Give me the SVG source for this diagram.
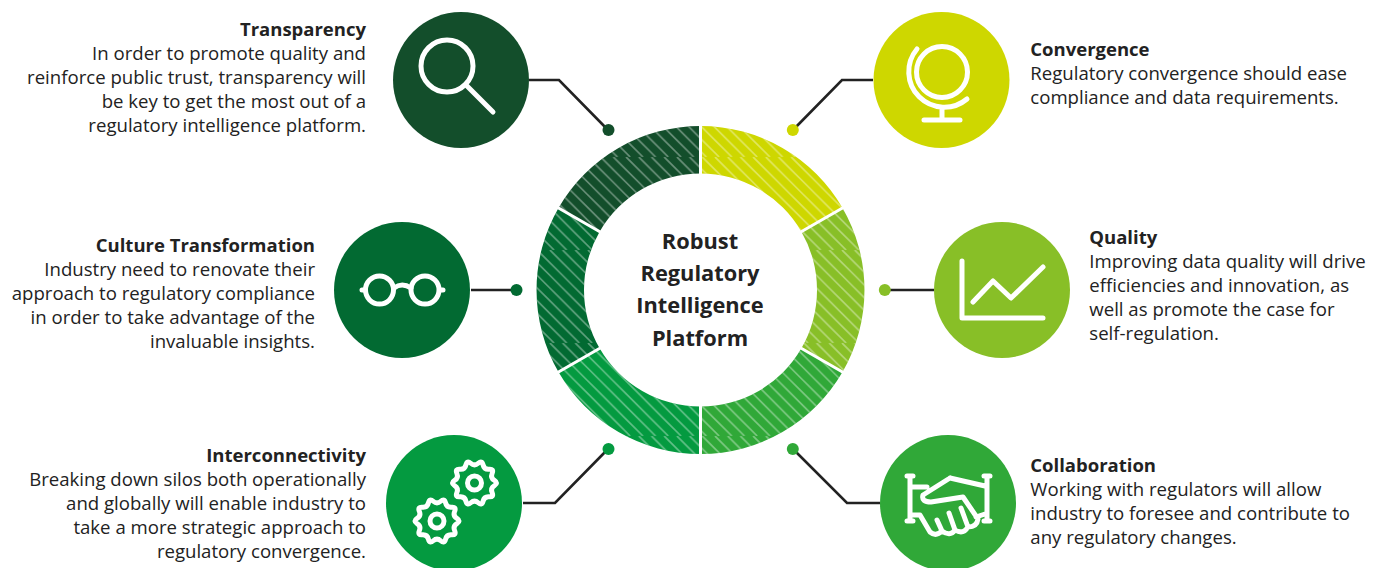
<svg xmlns="http://www.w3.org/2000/svg" width="1384" height="568" viewBox="0 0 1384 568">
<style>
text{font-family:"Open Sans","Noto Sans","DejaVu Sans",sans-serif;font-size:18.6px;fill:#222}
.t{font-weight:700;font-size:18.5px}
.e{text-anchor:end}
.c{font-size:21.8px;font-weight:700;text-anchor:middle}
.ic{fill:none;stroke:#fff;stroke-width:5;stroke-linecap:round;stroke-linejoin:round}
.cn{fill:none;stroke:#222;stroke-width:2.6;stroke-linejoin:miter}
.h{fill:url(#hatch)}
</style>
<defs>
<pattern id="hatch" patternUnits="userSpaceOnUse" x="3.800" y="64" width="12.700" height="93"><path fill="none" stroke="#fff" stroke-opacity=".36" stroke-width="1.700" d="M12.700,0L105.700,93M0,0L93,93M-12.700,0L80.300,93M-25.400,0L67.600,93M-38.100,0L54.900,93M-50.800,0L42.200,93M-63.500,0L29.500,93M-76.200,0L16.800,93M-88.900,0L4.100,93M-101.600,0L-8.600,93"/></pattern>
<g id="gear"><path transform="scale(1.1)" fill="none" stroke="#fff" stroke-width="4.5" stroke-linejoin="round" d="M18.15,-2.3 Q22,0 18.15,2.3 Q14.3,4.6 16.05,8.75 Q17.8,12.9 13.3,12.5 Q8.8,12.1 7.8,16.5 Q6.8,20.9 3.4,17.95 Q0,15 -3.4,17.95 Q-6.8,20.9 -7.8,16.5 Q-8.8,12.1 -13.3,12.5 Q-17.8,12.9 -16.05,8.75 Q-14.3,4.6 -18.15,2.3 Q-22,0 -18.15,-2.3 Q-14.3,-4.6 -16.05,-8.75 Q-17.8,-12.9 -13.3,-12.5 Q-8.8,-12.1 -7.8,-16.5 Q-6.8,-20.9 -3.4,-17.95 Q0,-15 3.4,-17.95 Q6.8,-20.9 7.8,-16.5 Q8.8,-12.1 13.3,-12.5 Q17.8,-12.9 16.05,-8.75 Q14.3,-4.6 18.15,-2.3Z"/><circle r="7" fill="none" stroke="#fff" stroke-width="5"/></g>
</defs>
<g id="connectors">
<path class="cn" d="M529,80H559L608,130"/>
<path class="cn" d="M873,80H842L793,130"/>
<path class="cn" d="M471,290H516"/>
<path class="cn" d="M934,290H885"/>
<path class="cn" d="M523,503H555L608,449"/>
<path class="cn" d="M880,503H847L793,449"/>
<circle cx="608.500" cy="130" r="6" fill="#134e2b"/>
<circle cx="792.800" cy="130" r="6" fill="#ced700"/>
<circle cx="516.500" cy="290" r="6" fill="#026a32"/>
<circle cx="884.800" cy="290" r="6" fill="#88bf27"/>
<circle cx="608.500" cy="449" r="6" fill="#049a40"/>
<circle cx="792.800" cy="449" r="6" fill="#30a838"/>
</g>
<g id="ring">
<path fill="#134e2b" d="M700.500,126A164,164 0 0 0 558.500,208L599.600,231.750A116.500,116.500 0 0 1 700.500,173.500Z"/>
<path class="h" d="M700.500,126A164,164 0 0 0 558.500,208L599.600,231.750A116.500,116.500 0 0 1 700.500,173.500Z"/>
<path fill="#ced700" d="M700.500,126A164,164 0 0 1 842.500,208L801.400,231.750A116.500,116.500 0 0 0 700.500,173.500Z"/>
<path class="h" d="M700.500,126A164,164 0 0 1 842.500,208L801.400,231.750A116.500,116.500 0 0 0 700.500,173.500Z"/>
<path fill="#88bf27" d="M842.500,208A164,164 0 0 1 842.500,372L801.400,348.250A116.500,116.500 0 0 0 801.400,231.750Z"/>
<path class="h" d="M842.500,208A164,164 0 0 1 842.500,372L801.400,348.250A116.500,116.500 0 0 0 801.400,231.750Z"/>
<path fill="#30a838" d="M842.500,372A164,164 0 0 1 700.500,454L700.500,406.500A116.500,116.500 0 0 0 801.400,348.250Z"/>
<path class="h" d="M842.500,372A164,164 0 0 1 700.500,454L700.500,406.500A116.500,116.500 0 0 0 801.400,348.250Z"/>
<path fill="#049a40" d="M700.500,454A164,164 0 0 1 558.500,372L599.600,348.250A116.500,116.500 0 0 0 700.500,406.500Z"/>
<path class="h" d="M700.500,454A164,164 0 0 1 558.500,372L599.600,348.250A116.500,116.500 0 0 0 700.500,406.500Z"/>
<path fill="#026a32" d="M558.500,372A164,164 0 0 1 558.500,208L599.600,231.750A116.500,116.500 0 0 0 599.600,348.250Z"/>
<path class="h" d="M558.500,372A164,164 0 0 1 558.500,208L599.600,231.750A116.500,116.500 0 0 0 599.600,348.250Z"/>
<path fill="none" stroke="#fff" stroke-width="3" d="M700.500,120V176M700.500,404V460M846,206L799,233M846,374L799,347M555,206L602,233M555,374L602,347"/>
<text class="c" x="700" y="248.500">Robust</text>
<text class="c" x="700" y="281">Regulatory</text>
<text class="c" x="700" y="313">Intelligence</text>
<text class="c" x="700" y="345.500">Platform</text>
</g>
<g id="transparency">
<circle cx="461" cy="80" r="68" fill="#134e2b"/>
<circle class="ic" cx="447" cy="66" r="26"/>
<path class="ic" d="M467,86L493,112"/>
<text class="t e" x="366" y="36">Transparency</text>
<text class="e" x="366" y="60">In order to promote quality and</text>
<text class="e" x="366" y="84">reinforce public trust, transparency will</text>
<text class="e" x="366" y="108">be key to get the most out of a</text>
<text class="e" x="366" y="132">regulatory intelligence platform.</text>
</g>
<g id="convergence">
<circle cx="941.500" cy="80" r="68" fill="#ced700"/>
<circle class="ic" cx="942" cy="72" r="25.500"/>
<path class="ic" d="M917,49A35.500,35.500 0 0 0 967,99M942,110V120M924,120H960"/>
<text class="t" x="1030.300" y="56">Convergence</text>
<text x="1030.300" y="80">Regulatory convergence should ease</text>
<text x="1030.300" y="104">compliance and data requirements.</text>
</g>
<g id="culture">
<circle cx="402" cy="290" r="68" fill="#026a32"/>
<circle class="ic" cx="379.500" cy="290" r="14"/>
<circle class="ic" cx="425" cy="290" r="14"/>
<path class="ic" d="M394,288Q402,282 411,288M362,290H365M440,290H443"/>
<text class="t e" x="315" y="252">Culture Transformation</text>
<text class="e" x="315" y="276">Industry need to renovate their</text>
<text class="e" x="315" y="300">approach to regulatory compliance</text>
<text class="e" x="315" y="324">in order to take advantage of the</text>
<text class="e" x="315" y="348">invaluable insights.</text>
</g>
<g id="quality">
<circle cx="1002" cy="290" r="68" fill="#88bf27"/>
<path class="ic" d="M962,261V318H1043M973,302L993,281L1011,298L1043,267"/>
<text class="t" x="1089.300" y="244">Quality</text>
<text x="1089.300" y="268">Improving data quality will drive</text>
<text x="1089.300" y="292">efficiencies and innovation, as</text>
<text x="1089.300" y="316">well as promote the case for</text>
<text x="1089.300" y="340">self-regulation.</text>
</g>
<g id="interconnectivity">
<circle cx="454" cy="503" r="68" fill="#049a40"/>
<use href="#gear" x="474.500" y="483"/>
<use href="#gear" x="437" y="521"/>
<text class="t e" x="366" y="462">Interconnectivity</text>
<text class="e" x="366" y="486">Breaking down silos both operationally</text>
<text class="e" x="366" y="510">and globally will enable industry to</text>
<text class="e" x="366" y="534">take a more strategic approach to</text>
<text class="e" x="366" y="558">regulatory convergence.</text>
</g>
<g id="collaboration">
<circle cx="948" cy="503" r="68" fill="#30a838"/>
<path class="ic" d="M907,476H913M910,476V521M907,521H913M984,476H990M987,476V521M984,521H990M910,487H927M950,478L985,486M910,515H920L930,532Q936,537 942,531Q950,537 955,530Q963,535 968,527Q977,527 978,519L963,497L931,502Q921,502 923,495L950,478M942,531L937,520M955,530L949,513M968,527L961,508M976,517L985,514"/>
<text class="t" x="1030.300" y="472">Collaboration</text>
<text x="1030.300" y="496">Working with regulators will allow</text>
<text x="1030.300" y="520">industry to foresee and contribute to</text>
<text x="1030.300" y="544">any regulatory changes.</text>
</g>
</svg>
